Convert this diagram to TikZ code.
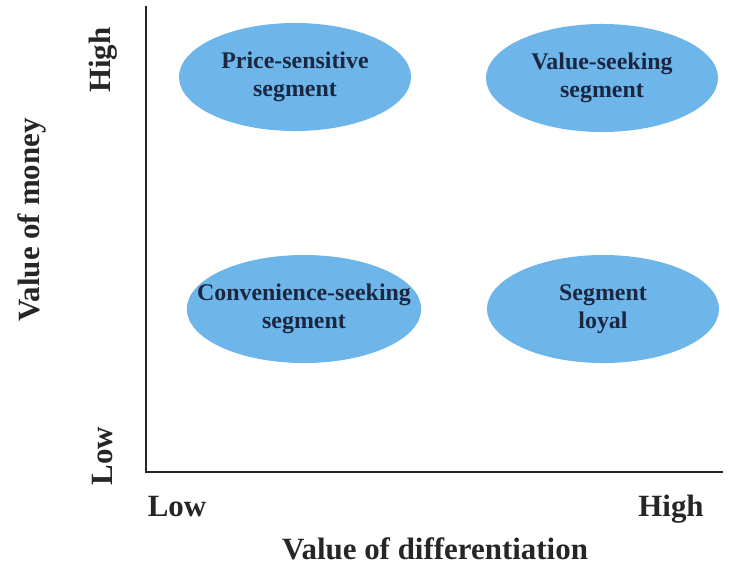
\documentclass[tikz,border=0pt]{standalone}
\usepackage{fontspec}
\setmainfont{Liberation Serif}
\usepackage{tikz}
\usetikzlibrary{positioning}
\usetikzlibrary{shapes.geometric}
\definecolor{segblue}{RGB}{110,182,234}
\definecolor{segtext}{RGB}{27,38,64}
\tikzstyle{segment} = [ellipse,fill=segblue,minimum width=5.8cm,minimum height=2.7cm,inner ysep=0pt,inner xsep=-0.6cm,align=center,text=segtext,font=\fontsize{17}{20}\selectfont\bfseries]
\tikzstyle{axis} = [line width=1.4pt,draw=black!85]
\tikzstyle{tick} = [font=\fontsize{22}{26}\selectfont\bfseries,text=black!85,anchor=base]

\begin{document}
\begin{tikzpicture}[x=0.025cm,y=-0.025cm]
	\useasboundingbox (0,0) rectangle (729,567);
	%Axes
	\coordinate (O) at (146,472);
	\coordinate (ytop) at (146,6);
	\coordinate (xend) at (723,472);
	
	%Nodes
	\node [segment] (price) at (295,77) {Price-sensitive\\segment};
	\node [segment] (value) at (602,78) {Value-seeking\\segment};
	\node [segment] (conv) at (304,309) {Convenience-seeking\\segment};
	\node [segment] (loyal) at (603,309) {Segment\\loyal};
	
	\node [tick,rotate=90] (yhigh) at (110,60) {High};
	\node [tick,rotate=90] (ylow) at (112,456) {Low};
	\node [tick,rotate=90] (ylabel) at (39,220) {Value of money};
	
	\node [tick] (xlow) at (177,516) {Low};
	\node [tick] (xhigh) at (671,516) {High};
	\node [tick] (xlabel) at (435,559) {Value of differentiation};
	
	%Lines
	\draw[axis] (ytop) -- (O) -- (xend);
\end{tikzpicture}
\end{document}
